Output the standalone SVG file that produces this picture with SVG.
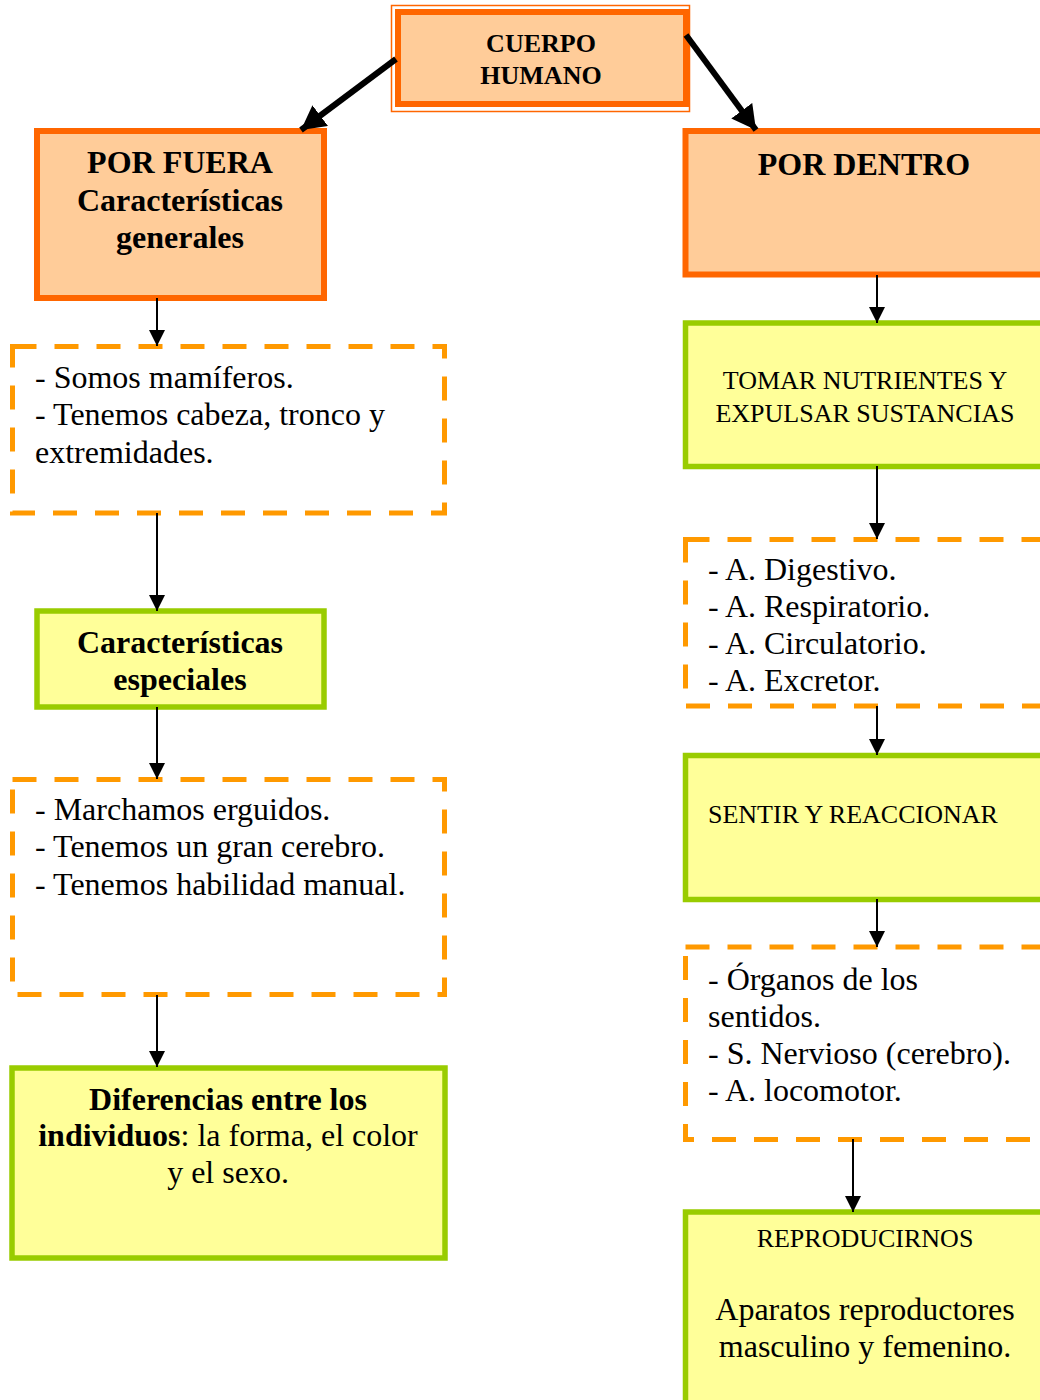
<svg xmlns="http://www.w3.org/2000/svg" width="1040" height="1400" viewBox="0 0 1040 1400">
<style>
.orange{fill:#FFCC99;stroke:#FF6600;stroke-width:6}
.green{fill:#FFFF99;stroke:#99CC00;stroke-width:5.5}
.dash{fill:#FFFFFF;stroke:#FF9900;stroke-width:5;stroke-dasharray:24 18}
text{font-family:"Liberation Serif","Times New Roman",serif;fill:#000}
.b{font-weight:bold}
.t32{font-size:32px}
.t26{font-size:26px}
.thin{stroke:#000;stroke-width:2;fill:none}
.thick{stroke:#000;stroke-width:6;fill:none}
</style>
<defs>
<marker id="ah" markerUnits="userSpaceOnUse" markerWidth="16" markerHeight="16" refX="16" refY="8" orient="auto">
<path d="M0,0 L16,8 L0,16 z" fill="#000"/>
</marker>
<marker id="ahb" markerUnits="userSpaceOnUse" markerWidth="24" markerHeight="26" refX="24" refY="13" orient="auto">
<path d="M0,0 L24,13 L0,26 z" fill="#000"/>
</marker>
</defs>
<rect width="1040" height="1400" fill="#FFFFFF"/>

<g id="cuerpo">
<rect x="391.5" y="5.5" width="298" height="106" fill="#FFFFFF" stroke="#FF6600" stroke-width="1.5"/>
<rect x="398" y="12" width="288" height="92" class="orange" stroke-width="8"/>
<text class="b t26" x="541" y="52" text-anchor="middle">CUERPO</text>
<text class="b t26" x="541" y="84" text-anchor="middle">HUMANO</text>
</g>

<g id="porfuera">
<rect x="37" y="131" width="287" height="167" class="orange"/>
<text class="b t32" x="180" y="173" text-anchor="middle">POR FUERA</text>
<text class="b t32" x="180" y="211" text-anchor="middle">Características</text>
<text class="b t32" x="180" y="248" text-anchor="middle">generales</text>
</g>

<g id="pordentro">
<rect x="685.5" y="131" width="370" height="143.5" class="orange"/>
<text class="b t32" x="864" y="175" text-anchor="middle">POR DENTRO</text>
</g>

<g id="generales">
<rect x="12.5" y="346.5" width="432" height="166.5" class="dash"/>
<text class="t32" x="35" y="388">- Somos mamíferos.</text>
<text class="t32" x="35" y="425">- Tenemos cabeza, tronco y</text>
<text class="t32" x="35" y="463">extremidades.</text>
</g>

<g id="especiales">
<rect x="37" y="611" width="287" height="96" class="green"/>
<text class="b t32" x="180" y="653" text-anchor="middle">Características</text>
<text class="b t32" x="180" y="690" text-anchor="middle">especiales</text>
</g>

<g id="especiales-lista">
<rect x="12.5" y="779.5" width="432" height="215" class="dash"/>
<text class="t32" x="35" y="820">- Marchamos erguidos.</text>
<text class="t32" x="35" y="857">- Tenemos un gran cerebro.</text>
<text class="t32" x="35" y="895">- Tenemos habilidad manual.</text>
</g>

<g id="diferencias">
<rect x="12" y="1068" width="433" height="190" class="green"/>
<text class="t32" x="228" y="1110" text-anchor="middle"><tspan class="b">Diferencias entre los</tspan></text>
<text class="t32" x="228" y="1146" text-anchor="middle"><tspan class="b">individuos</tspan>: la forma, el color</text>
<text class="t32" x="228" y="1183" text-anchor="middle">y el sexo.</text>
</g>

<g id="tomar">
<rect x="685.5" y="323" width="370" height="143.5" class="green"/>
<text class="t26" x="865" y="389" text-anchor="middle">TOMAR NUTRIENTES Y</text>
<text class="t26" x="865" y="422" text-anchor="middle">EXPULSAR SUSTANCIAS</text>
</g>

<g id="aparatos">
<rect x="685.5" y="539.5" width="370" height="166.5" class="dash"/>
<text class="t32" x="708" y="580">- A. Digestivo.</text>
<text class="t32" x="708" y="617">- A. Respiratorio.</text>
<text class="t32" x="708" y="654">- A. Circulatorio.</text>
<text class="t32" x="708" y="691">- A. Excretor.</text>
</g>

<g id="sentir">
<rect x="685.5" y="755.5" width="370" height="144" class="green"/>
<text class="t26" x="708" y="823">SENTIR Y REACCIONAR</text>
</g>

<g id="sentidos">
<rect x="685.5" y="947" width="370" height="192.5" class="dash"/>
<text class="t32" x="708" y="990">- Órganos de los</text>
<text class="t32" x="708" y="1027">sentidos.</text>
<text class="t32" x="708" y="1064">- S. Nervioso (cerebro).</text>
<text class="t32" x="708" y="1101">- A. locomotor.</text>
</g>

<g id="reproducirnos">
<rect x="685.5" y="1212" width="370" height="220" class="green"/>
<text class="t26" x="865" y="1247" text-anchor="middle">REPRODUCIRNOS</text>
<text class="t32" x="865" y="1320" text-anchor="middle">Aparatos reproductores</text>
<text class="t32" x="865" y="1357" text-anchor="middle">masculino y femenino.</text>
</g>

<g id="connectors">
<line x1="396" y1="59" x2="301" y2="130" class="thick" marker-end="url(#ahb)"/>
<line x1="686" y1="35" x2="756" y2="130" class="thick" marker-end="url(#ahb)"/>
<line x1="157" y1="298" x2="157" y2="346" class="thin" marker-end="url(#ah)"/>
<line x1="157" y1="513" x2="157" y2="611" class="thin" marker-end="url(#ah)"/>
<line x1="157" y1="707" x2="157" y2="779" class="thin" marker-end="url(#ah)"/>
<line x1="157" y1="995" x2="157" y2="1067" class="thin" marker-end="url(#ah)"/>
<line x1="877" y1="275" x2="877" y2="323" class="thin" marker-end="url(#ah)"/>
<line x1="877" y1="466" x2="877" y2="539" class="thin" marker-end="url(#ah)"/>
<line x1="877" y1="706" x2="877" y2="755" class="thin" marker-end="url(#ah)"/>
<line x1="877" y1="899" x2="877" y2="947" class="thin" marker-end="url(#ah)"/>
<line x1="853" y1="1139" x2="853" y2="1212" class="thin" marker-end="url(#ah)"/>
</g>
</svg>
